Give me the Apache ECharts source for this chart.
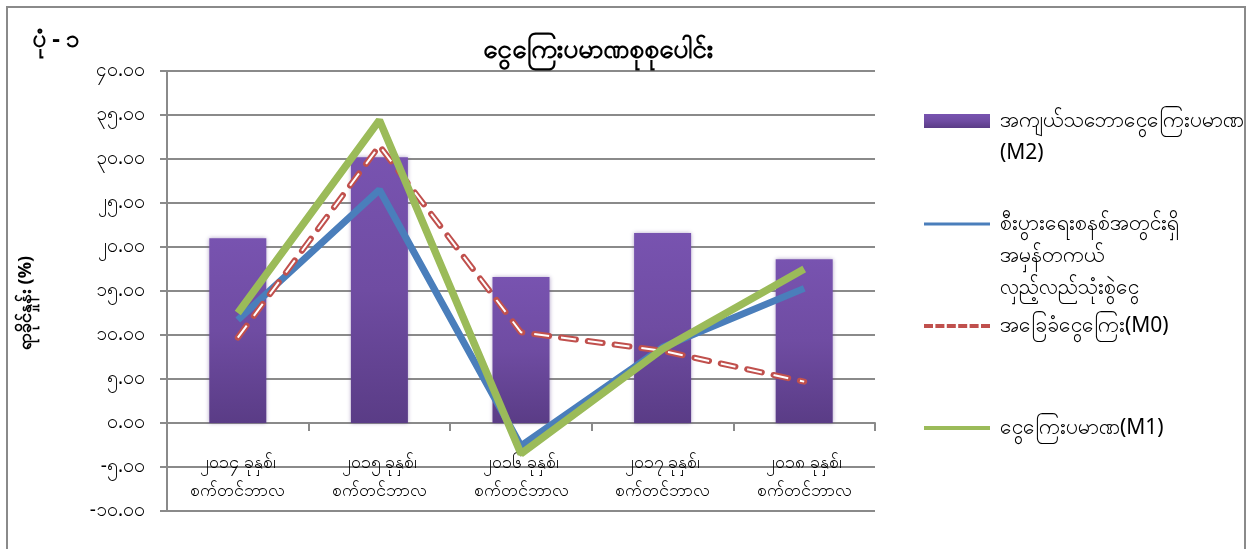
<!DOCTYPE html>
<html><head><meta charset="utf-8">
<script src="https://cdn.jsdelivr.net/npm/echarts@6/dist/echarts.min.js"></script>
<style>html,body{margin:0;padding:0;background:#fff}#c{width:1252px;height:549px}</style>
</head><body><div id="c"></div>
<script>
const categories = ['၂၀၁၄ ခုနှစ်၊\nစက်တင်ဘာလ','၂၀၁၅ ခုနှစ်၊\nစက်တင်ဘာလ','၂၀၁၆ ခုနှစ်၊\nစက်တင်ဘာလ','၂၀၁၇ ခုနှစ်၊\nစက်တင်ဘာလ','၂၀၁၈ ခုနှစ်၊\nစက်တင်ဘာလ'];
const nameM2 = 'အကျယ်သဘောငွေကြေးပမာဏ\n(M2)';
const nameCur = 'စီးပွားရေးစနစ်အတွင်းရှိ\nအမှန်တကယ်\nလှည့်လည်သုံးစွဲငွေ';
const nameM0 = 'အခြေခံငွေကြေး(M0)';
const nameM1 = 'ငွေကြေးပမာဏ(M1)';
const m2 = [21.0, 30.2, 16.6, 21.6, 18.6];
const currency = [11.7, 26.5, -2.6, 8.6, 15.3];
const m0 = [9.7, 31.5, 10.3, 8.2, 4.7];
const m1 = [12.5, 34.4, -3.5, 8.4, 17.5];
const yMin = -10, yMax = 40, yStep = 5;
const yTickLabels = ['-၁၀.၀၀','-၅.၀၀','၀.၀၀','၅.၀၀','၁၀.၀၀','၁၅.၀၀','၂၀.၀၀','၂၅.၀၀','၃၀.၀၀','၃၅.၀၀','၄၀.၀၀'];
const titleText = 'ငွေကြေးပမာဏစုစုပေါင်း';
const figText = 'ပုံ - ၁';
const yName = 'ရာခိုင်နှုန်း (%)';

const FONT = '"Noto Sans", sans-serif';
const chart = echarts.init(document.getElementById('c'));
const barColor = new echarts.graphic.LinearGradient(0,0,0,1,[
  {offset:0,color:'#7853b0'},{offset:0.5,color:'#6f4ca2'},{offset:1,color:'#5a3c86'}]);
const L = 32;
function leg(name, center, lines, extra) {
  return Object.assign({
    data:[name], left: 924, top: center - (2*lines-1)*L/2, orient:'vertical', padding:0,
    itemWidth: 66, itemHeight: 14,
    formatter: n => '\n'.repeat(lines-1) + n,
    textStyle:{fontFamily:FONT, fontSize:21, color:'#000', lineHeight:L, padding:[0,0,0,5]}
  }, extra||{});
}
const dashIcon = 'path://M0,0h9v4h-9z M11.4,0h9v4h-9z M22.8,0h9v4h-9z M34.2,0h9v4h-9z M45.6,0h9v4h-9z M57,0h9v4h-9z';
chart.setOption({
  animation:false,
  title:[
    {text:titleText, left:478, top:33, textStyle:{fontFamily:FONT,fontSize:26,fontWeight:'bold',color:'#000'}},
    {text:figText, left:28, top:23, textStyle:{fontFamily:FONT,fontSize:24,fontWeight:'bold',color:'#000'}}
  ],
  graphic:[{type:'rect', shape:{x:7,y:7,width:1238,height:560}, style:{fill:'none',stroke:'#8a8a8a',lineWidth:2}, silent:true}],
  legend:[
    leg(nameM2, 121, 2, {icon:'rect'}),
    leg(nameCur, 224, 3, {icon:'rect', itemHeight:3}),
    leg(nameM0, 326, 1, {icon:dashIcon, itemHeight:4}),
    leg(nameM1, 428, 1, {icon:'rect', itemHeight:4})
  ],
  grid:{left:167, right:377, top:71, bottom:38, containLabel:false, outerBoundsMode:'none'},
  xAxis:{type:'category', data:categories,
    axisLine:{onZero:true, lineStyle:{color:'#8a8a8a',width:2}},
    axisTick:{show:true, length:8, lineStyle:{color:'#8a8a8a',width:2}},
    axisLabel:{fontFamily:FONT,fontSize:18,color:'#000',margin:-62,lineHeight:28,interval:0}
  },
  yAxis:{type:'value', min:yMin, max:yMax, interval:yStep,
    name:yName, nameLocation:'middle', nameRotate:90, nameGap:132,
    nameTextStyle:{fontFamily:FONT,fontSize:18,fontWeight:'bold',color:'#000',padding:[0,24,0,0]},
    axisLine:{show:true, lineStyle:{color:'#8a8a8a',width:2}},
    axisTick:{show:true, length:7, lineStyle:{color:'#8a8a8a',width:2}},
    splitLine:{lineStyle:{color:'#8a8a8a',width:2}},
    axisLabel:{fontFamily:FONT,fontSize:19,color:'#000',margin:22,
      formatter:v=>yTickLabels[Math.round((v-yMin)/yStep)]}
  },
  series:[
    {name:nameM2, type:'bar', data:m2, barWidth:57, itemStyle:{color:barColor, shadowBlur:4, shadowColor:'rgba(90,60,140,0.45)'}},
    {name:nameCur, type:'line', data:currency, symbol:'none', lineStyle:{color:'#4a7ebb', width:7}, itemStyle:{color:'#4a7ebb'}},
    {name:nameM0, type:'line', data:m0, symbol:'none', lineStyle:{color:'#c0504d', width:6, type:[15,12], cap:'round'}, itemStyle:{color:'#c0504d'}},
    {name:'m0inner', type:'line', data:m0, symbol:'none', silent:true, lineStyle:{color:'#ffffff', width:2, type:[15,12], cap:'butt'}, itemStyle:{color:'#fff'}},
    {name:nameM1, type:'line', data:m1, symbol:'none', lineStyle:{color:'#9bbb59', width:7.5}, itemStyle:{color:'#9bbb59'}}
  ]
});
</script></body></html>
